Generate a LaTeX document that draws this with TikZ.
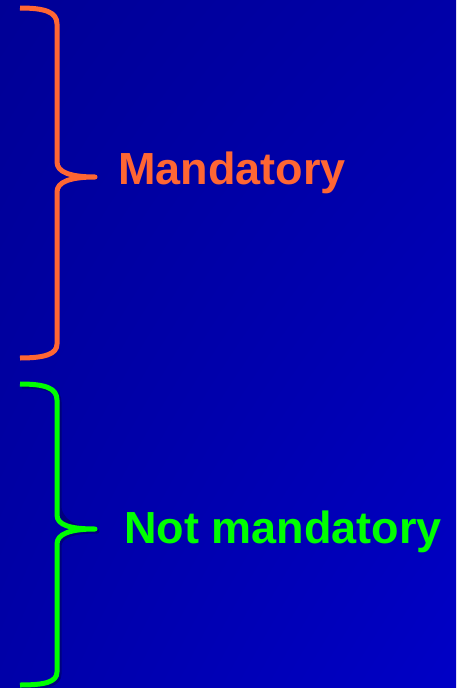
\documentclass[tikz,border=0pt]{standalone}
\usepackage{fontspec}
\setmainfont{Liberation Sans}
\usetikzlibrary{shadings}
\definecolor{bgA}{HTML}{000096}
\definecolor{bgB}{HTML}{0000A8}
\definecolor{bgC}{HTML}{0000C6}
\definecolor{orangeT}{HTML}{FF6633}
\definecolor{greenT}{HTML}{00FF00}
\tikzset{
  bracepath/.style={line width=5pt, line join=round},
  txtlbl/.style={anchor=base west, inner sep=0pt, font=\bfseries\fontsize{45}{50}\selectfont},
}
\begin{document}
\begin{tikzpicture}[x=1pt,y=-1pt]
\shade[upper left=bgA, upper right=bgB, lower left=bgB, lower right=bgC] (0,0) rectangle (456,688);
\useasboundingbox (0,0) rectangle (456,688);
% orange brace
\coordinate (t1) at (95,177);
\draw[bracepath, orangeT] (20,8) .. controls (45,8) and (57,12) .. (57,24) -- (57,162)
  .. controls (57,172) and (70,177) .. (t1)
  .. controls (70,177) and (57,182) .. (57,192) -- (57,344)
  .. controls (57,354) and (45,358) .. (20,358);
\node[txtlbl, text=orangeT] (m) at (118,184) {Mandatory};
% green brace shadow
\draw[bracepath, black, opacity=0.25] (22,386) .. controls (47,386) and (59,390) .. (59,402) -- (59,507)
  .. controls (59,517) and (72,531) .. (97,531)
  .. controls (72,531) and (59,536) .. (59,546) -- (59,674)
  .. controls (59,684) and (47,687) .. (22,687);
\coordinate (t2) at (95,529);
\draw[bracepath, greenT] (20,384) .. controls (45,384) and (57,388) .. (57,400) -- (57,515)
  .. controls (57,525) and (70,529) .. (t2)
  .. controls (70,529) and (57,534) .. (57,544) -- (57,672)
  .. controls (57,682) and (45,685) .. (20,685);
\node[txtlbl, text=greenT] (n) at (124,543) {Not mandatory};
\end{tikzpicture}
\end{document}
